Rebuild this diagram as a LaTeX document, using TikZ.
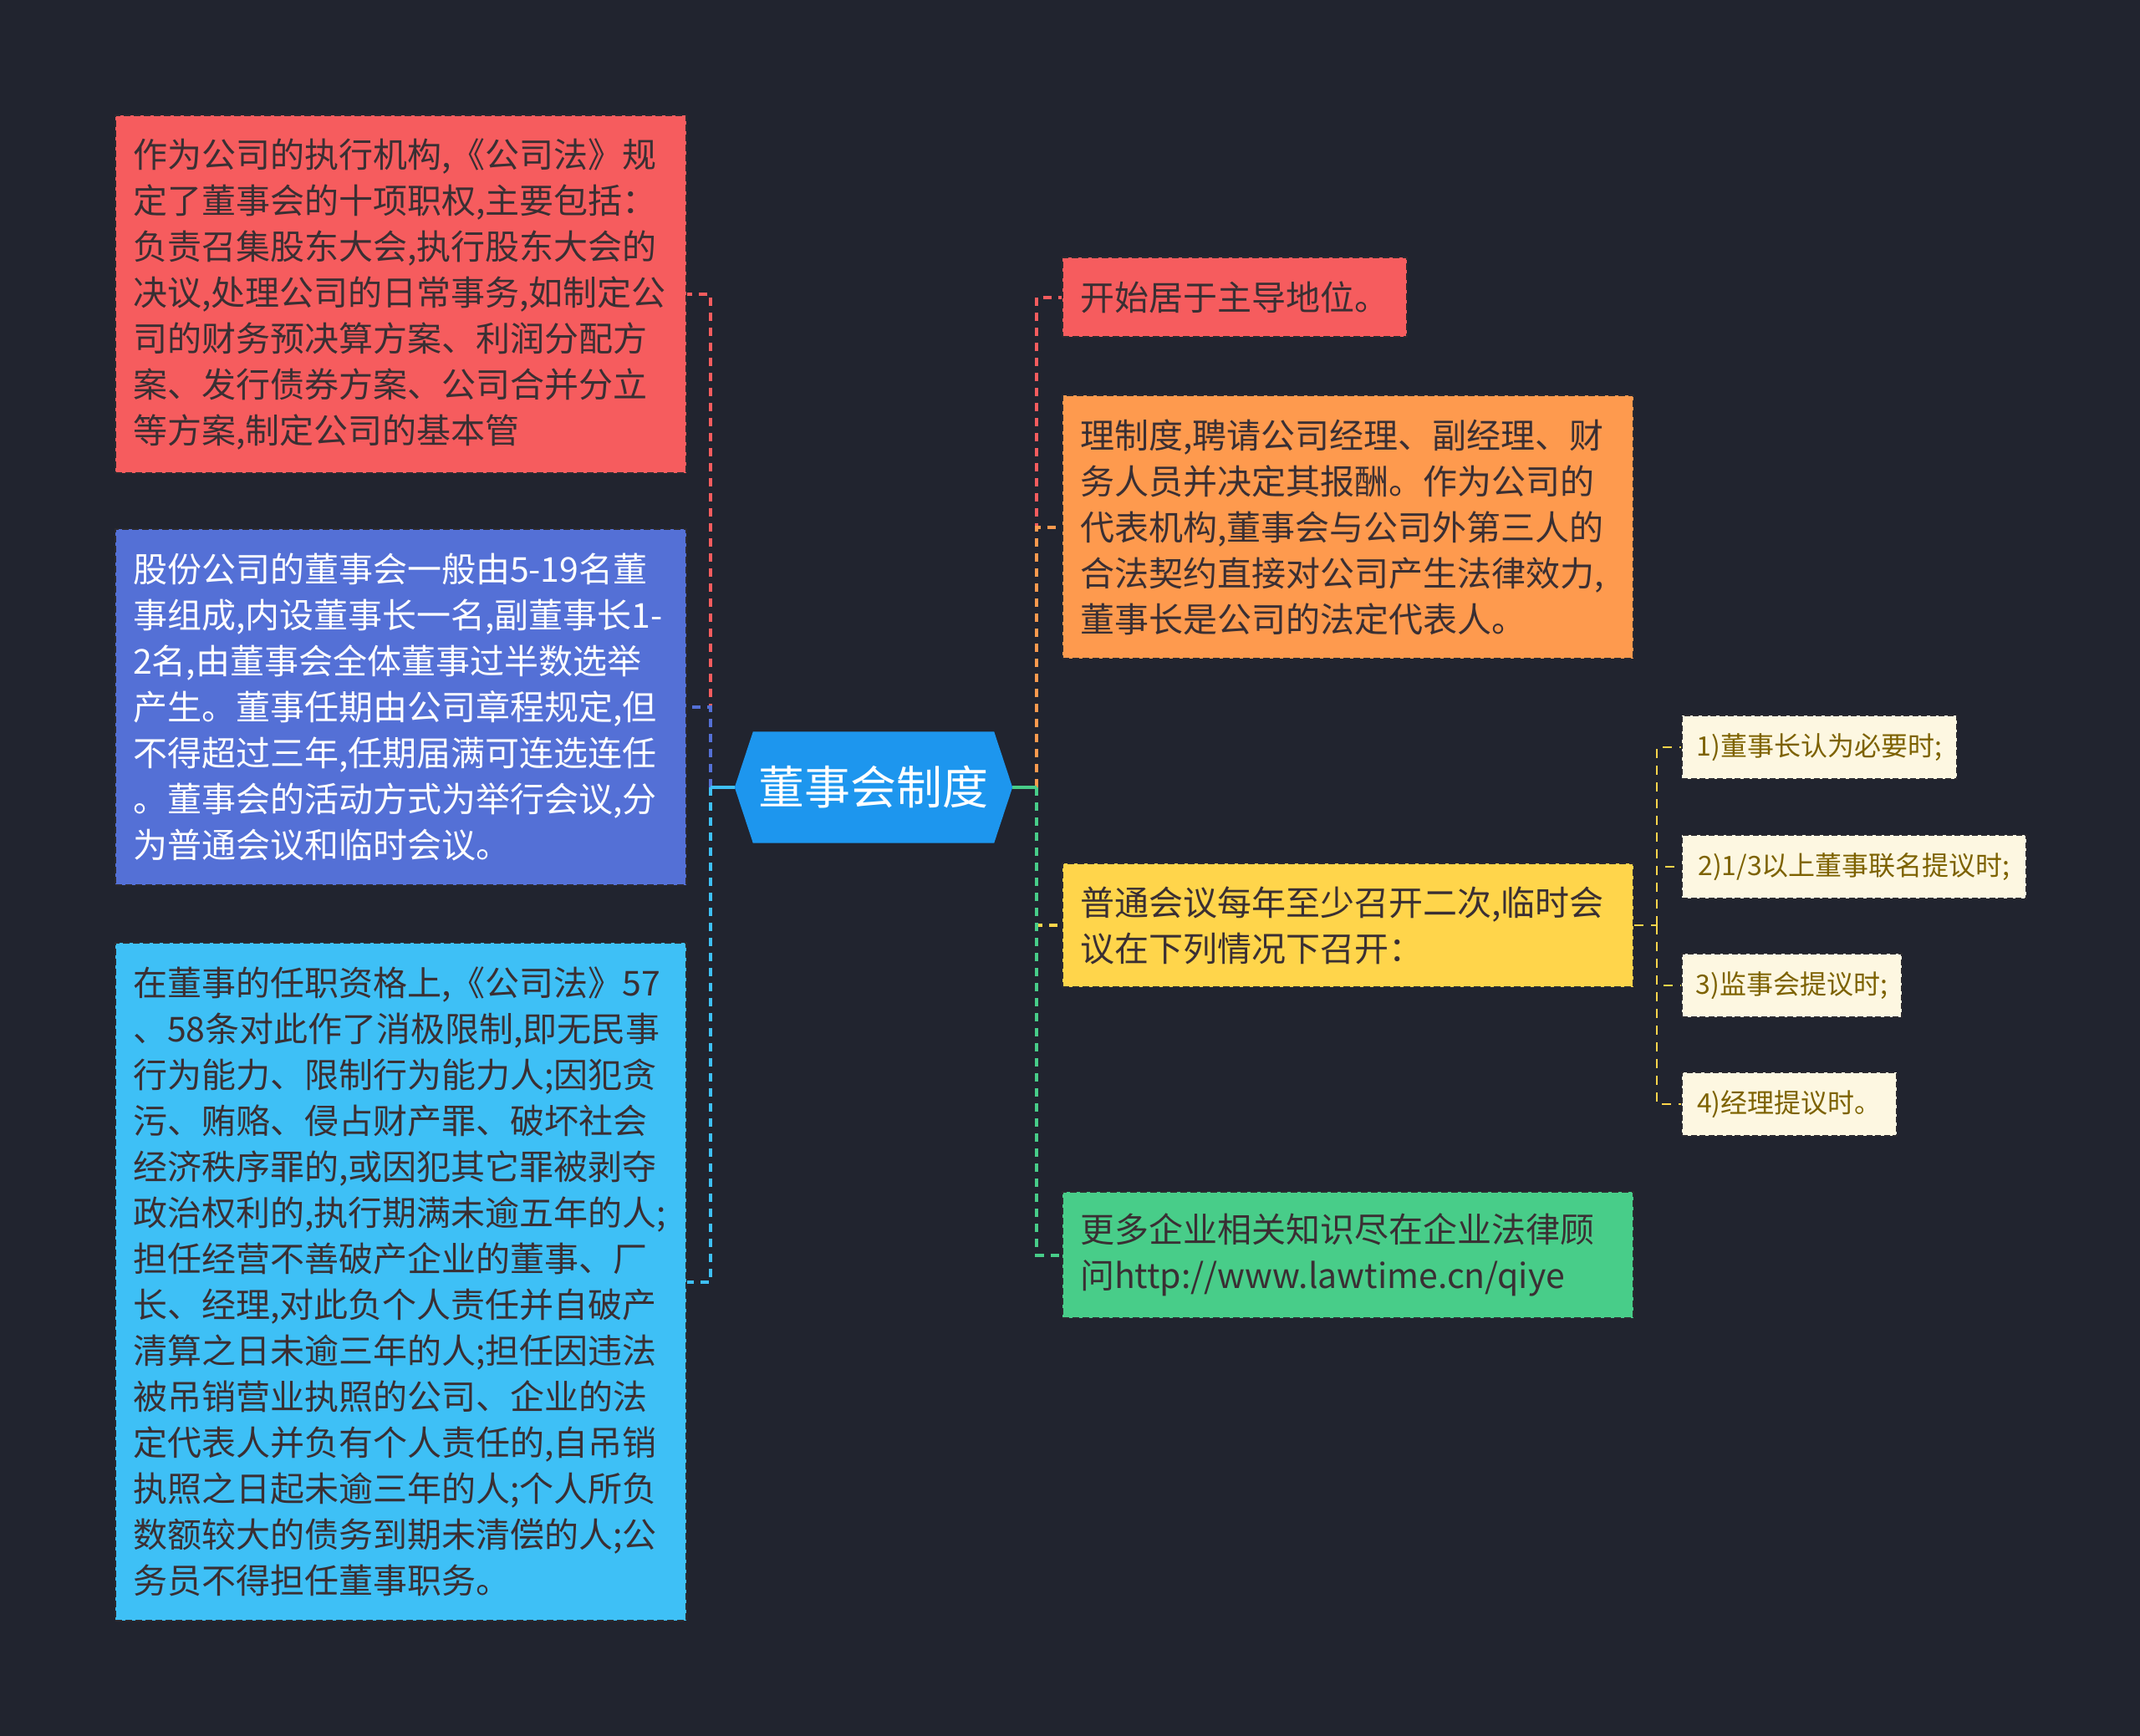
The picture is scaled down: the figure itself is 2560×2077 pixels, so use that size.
\documentclass[tikz,border=0pt]{standalone}
\usepackage{fontspec}
\setmainfont{Noto Sans CJK SC}
\definecolor{bg}{HTML}{21242F}
\definecolor{cred}{HTML}{F65C5E}
\definecolor{cblue}{HTML}{5470D6}
\definecolor{ccyan}{HTML}{3EC0F6}
\definecolor{corange}{HTML}{FE9A4E}
\definecolor{cyellow}{HTML}{FFD54B}
\definecolor{cgreen}{HTML}{48CD89}
\definecolor{ccream}{HTML}{FDF7E1}
\definecolor{ccenter}{HTML}{1D96EE}
\definecolor{darktext}{HTML}{3A2F33}
\definecolor{olive}{HTML}{7D6200}
\definecolor{border}{HTML}{2B2A30}
\pgfdeclarelayer{bglayer}
\pgfdeclarelayer{hexlayer}
\pgfsetlayers{bglayer,hexlayer,main}
\tikzset{
  box/.style={rectangle, draw=border, fill=#1, dash pattern=on 8pt off 4pt,
    line width=2pt, inner xsep=21pt, inner ysep=0pt, anchor=north west, align=left,
    font=\fontsize{41}{55}\selectfont, text=darktext},
  smallbox/.style={rectangle, draw=border, fill=ccream, dash pattern=on 7pt off 3.5pt,
    line width=2pt, inner xsep=0pt, inner ysep=0pt, anchor=north west, align=left,
    font=\fontsize{32}{40}\selectfont, text=olive, minimum height=76pt},
  conn/.style={line width=4pt, dash pattern=on 10pt off 8pt},
  subconn/.style={line width=2.5pt, dash pattern=on 11pt off 9pt, cyellow},
  solidconn/.style={line width=4pt},
}
\begin{document}
\begin{tikzpicture}[x=1pt,y=-1pt]
\useasboundingbox (0,0) rectangle (2560,2077);
\begin{pgfonlayer}{bglayer}
\fill[bg] (0,0) rectangle (2560,2077);
\end{pgfonlayer}

% center
\node[minimum width=332pt, minimum height=133pt, inner sep=0pt, text=white,
  font=\fontsize{55}{60}\selectfont] (c) at (1045,942) {董事会制度};
\begin{pgfonlayer}{hexlayer}
\fill[ccenter] ([xshift=22pt]c.north west) -- ([xshift=-22pt]c.north east) -- (c.east)
  -- ([xshift=-22pt]c.south east) -- ([xshift=22pt]c.south west) -- (c.west) -- cycle;
\end{pgfonlayer}

% left boxes
\node[box=cred, text width=641pt, minimum height=428pt] (L1) at (137,137) {作为公司的执行机构,《公司法》规\\定了董事会的十项职权,主要包括：\\负责召集股东大会,执行股东大会的\\决议,处理公司的日常事务,如制定公\\司的财务预决算方案、利润分配方\\案、发行债券方案、公司合并分立\\等方案,制定公司的基本管};
\node[box=cblue, text=white, text width=641pt, minimum height=426pt] (L2) at (137,632) {股份公司的董事会一般由5-19名董\\事组成,内设董事长一名,副董事长1-\\2名,由董事会全体董事过半数选举\\产生。董事任期由公司章程规定,但\\不得超过三年,任期届满可连选连任\\。董事会的活动方式为举行会议,分\\为普通会议和临时会议。};
\node[box=ccyan, text width=641pt, minimum height=811pt] (L3) at (137,1127) {在董事的任职资格上,《公司法》57\\、58条对此作了消极限制,即无民事\\行为能力、限制行为能力人;因犯贪\\污、贿赂、侵占财产罪、破坏社会\\经济秩序罪的,或因犯其它罪被剥夺\\政治权利的,执行期满未逾五年的人;\\担任经营不善破产企业的董事、厂\\长、经理,对此负个人责任并自破产\\清算之日未逾三年的人;担任因违法\\被吊销营业执照的公司、企业的法\\定代表人并负有个人责任的,自吊销\\执照之日起未逾三年的人;个人所负\\数额较大的债务到期未清偿的人;公\\务员不得担任董事职务。};

% right boxes
\node[box=cred, minimum width=412pt, minimum height=95pt] (R1) at (1270,307) {开始居于主导地位。};
\node[box=corange, text width=641pt, minimum height=315pt] (R2) at (1270,472) {理制度,聘请公司经理、副经理、财\\务人员并决定其报酬。作为公司的\\代表机构,董事会与公司外第三人的\\合法契约直接对公司产生法律效力,\\董事长是公司的法定代表人。};
\node[box=cyellow, text width=641pt, minimum height=148pt] (R3) at (1270,1032) {普通会议每年至少召开二次,临时会\\议在下列情况下召开：};
\node[box=cgreen, text width=641pt, minimum height=151pt] (R4) at (1270,1425) {更多企业相关知识尽在企业法律顾\\问http://www.lawtime.cn/qiye};

% small boxes
\node[smallbox, minimum width=329pt] (S1) at (2011,855) {1)董事长认为必要时;};
\node[smallbox, minimum width=412pt] (S2) at (2011,998) {2)1/3以上董事联名提议时;};
\node[smallbox, minimum width=263pt] (S3) at (2011,1140) {3)监事会提议时;};
\node[smallbox, minimum width=257pt] (S4) at (2011,1282) {4)经理提议时。};

% connectors
\coordinate (lt) at (850,942);
\coordinate (rt) at (1240,942);
\coordinate (st) at (1982,1107);
\draw[conn, cred] (lt) |- (L1.east);
\draw[conn, cblue] (lt) |- (L2.east);
\draw[conn, ccyan] (lt) |- (L3.east);
\draw[solidconn, ccyan] (c.west) -- (lt);
\draw[conn, cred] (rt) |- (R1.west);
\draw[conn, corange] (rt) |- (R2.west);
\draw[conn, cyellow] (rt) |- (R3.west);
\draw[conn, cgreen] (rt) |- (R4.west);
\draw[solidconn, cgreen] (c.east) -- (rt);
\draw[subconn] (R3.east) -- (st);
\draw[subconn] (st) |- (S1.west);
\draw[subconn] (st) |- (S2.west);
\draw[subconn] (st) |- (S3.west);
\draw[subconn] (st) |- (S4.west);
\end{tikzpicture}
\end{document}
